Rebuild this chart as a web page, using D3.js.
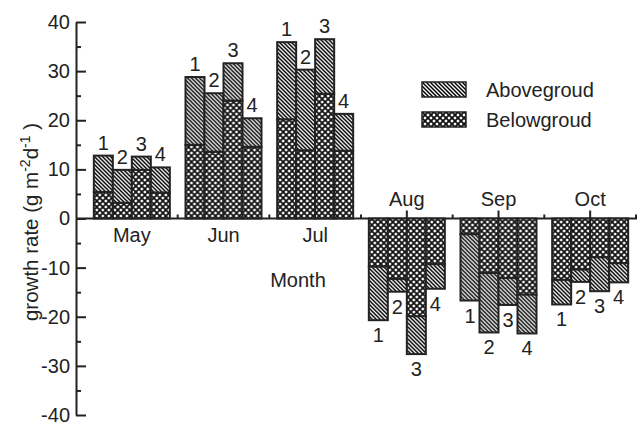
<!DOCTYPE html>
<html>
<head>
    <meta charset="utf-8">
    <title>Growth rate by month</title>
    <script src="https://d3js.org/d3.v7.min.js"></script>
    <style>
        body { margin: 0; background: #fff; }
        text { font-family: "Liberation Sans", Arial, sans-serif; fill: #222; }
    </style>
</head>
<body>
    <script>
        // data
        var months = ["May", "Jun", "Jul", "Aug", "Sep", "Oct"];
        var plots = ["1", "2", "3", "4"];
        var belowground = [
            [5.4, 3.2, 9.9, 5.3],
            [15.0, 13.6, 24.0, 14.6],
            [20.2, 13.9, 25.4, 13.8],
            [-9.8, -12.3, -19.9, -9.3],
            [-3.2, -11.1, -12.1, -15.5],
            [-12.5, -10.4, -7.9, -9.1]
        ];
        var aboveground = [
            [7.4, 6.7, 2.7, 5.1],
            [13.8, 11.9, 7.6, 5.8],
            [15.7, 16.4, 11.1, 7.5],
            [-10.9, -2.6, -7.7, -5.0],
            [-13.5, -12.1, -5.5, -7.9],
            [-5.0, -2.5, -6.9, -3.9]
        ];
        var yTicks = [-40, -30, -20, -10, 0, 10, 20, 30, 40];
        var yMinor = [-35, -25, -15, -5, 5, 15, 25, 35];
        var legendLabels = ["Abovegroud", "Belowgroud"];

        var width = 638, height = 425;
        var fs = "20px";

        var svg = d3.select("body")
            .append("svg")
            .attr("width", width)
            .attr("height", height);

        var defs = svg.append("defs");

        // diagonal hatch for aboveground
        var hatch = defs.append("pattern")
            .attr("id", "hatch")
            .attr("patternUnits", "userSpaceOnUse")
            .attr("width", 4)
            .attr("height", 4);
        hatch.append("rect").attr("width", 4).attr("height", 4).attr("fill", "#fff");
        hatch.append("path")
            .attr("d", "M-1,-1 L5,5 M-1,3 L1,5 M3,-1 L5,1")
            .attr("stroke", "#000")
            .attr("stroke-width", 1.5);

        // cross hatch for belowground
        var cross = defs.append("pattern")
            .attr("id", "cross")
            .attr("patternUnits", "userSpaceOnUse")
            .attr("width", 6)
            .attr("height", 6);
        cross.append("rect").attr("width", 6).attr("height", 6).attr("fill", "#fff");
        cross.append("path")
            .attr("d", "M0,0 L6,6 M6,0 L0,6")
            .attr("stroke", "#111")
            .attr("stroke-width", 1.8);

        var y = d3.scaleLinear().domain([-40, 40]).range([415, 22]);
        var x = d3.scaleBand().domain(months).range([86, 636]);
        var xInner = d3.scaleBand().domain(plots).range([0, 76]);
        var groupOffset = (x.bandwidth() - 76) / 2;
        var y0 = y(0);

        // x axis at zero
        var xAxis = svg.append("g").attr("transform", "translate(0," + y0 + ")");
        xAxis.append("line")
            .attr("x1", 76).attr("x2", 637)
            .attr("stroke", "#222").attr("stroke-width", 2);
        xAxis.selectAll(".major")
            .data(months)
            .enter().append("line")
            .attr("x1", function(d) { return x(d) + x.bandwidth() / 2; })
            .attr("x2", function(d) { return x(d) + x.bandwidth() / 2; })
            .attr("y1", 0).attr("y2", -8)
            .attr("stroke", "#222").attr("stroke-width", 2);
        xAxis.selectAll(".minor")
            .data(months)
            .enter().append("line")
            .attr("x1", function(d) { return x(d) + x.bandwidth(); })
            .attr("x2", function(d) { return x(d) + x.bandwidth(); })
            .attr("y1", 0).attr("y2", -4)
            .attr("stroke", "#222").attr("stroke-width", 2);

        // bars
        months.forEach(function(m, i) {
            var g = svg.append("g")
                .attr("transform", "translate(" + (x(m) + groupOffset) + ",0)");
            plots.forEach(function(p, j) {
                var b = belowground[i][j], a = aboveground[i][j];
                var total = b + a;
                var bx = xInner(p), bw = xInner.bandwidth();
                g.append("rect")
                    .attr("x", bx)
                    .attr("y", Math.min(y(0), y(b)))
                    .attr("width", bw)
                    .attr("height", Math.abs(y(b) - y(0)))
                    .attr("fill", "url(#cross)")
                    .attr("stroke", "#222").attr("stroke-width", 2);
                g.append("rect")
                    .attr("x", bx)
                    .attr("y", Math.min(y(b), y(total)))
                    .attr("width", bw)
                    .attr("height", Math.abs(y(total) - y(b)))
                    .attr("fill", "url(#hatch)")
                    .attr("stroke", "#222").attr("stroke-width", 2);
                g.append("text")
                    .attr("x", bx + bw / 2)
                    .attr("y", total >= 0 ? y(total) - 6 : y(total) + 22)
                    .attr("text-anchor", "middle")
                    .style("font-size", fs)
                    .text(p);
            });
        });

        // month labels: above the axis for negative months
        svg.selectAll(".month")
            .data(months)
            .enter().append("text")
            .attr("x", function(d) { return x(d) + x.bandwidth() / 2; })
            .attr("y", function(d, i) { return belowground[i][0] < 0 ? y0 - 13 : y0 + 23; })
            .attr("text-anchor", "middle")
            .style("font-size", fs)
            .text(function(d) { return d; });

        svg.append("text")
            .attr("x", 298).attr("y", 287)
            .attr("text-anchor", "middle")
            .style("font-size", fs)
            .text("Month");

        // y axis
        var yAxis = svg.append("g").attr("transform", "translate(76,0)");
        yAxis.call(d3.axisLeft(y).tickValues(yTicks).tickSizeInner(-10).tickSizeOuter(0).tickPadding(6)
            .tickFormat(function(d) { return String(d); }));
        yAxis.select(".domain").attr("stroke", "#222").attr("stroke-width", 2);
        yAxis.selectAll(".tick line").attr("stroke", "#222").attr("stroke-width", 2);
        yAxis.selectAll(".tick text")
            .style("font-size", fs)
            .style("font-family", "'Liberation Sans', Arial, sans-serif")
            .attr("fill", "#222");
        var yMinorAxis = svg.append("g").attr("transform", "translate(76,0)");
        yMinorAxis.call(d3.axisLeft(y).tickValues(yMinor).tickSizeInner(-5).tickSizeOuter(0).tickFormat(""));
        yMinorAxis.select(".domain").remove();
        yMinorAxis.selectAll(".tick line").attr("stroke", "#222").attr("stroke-width", 2);

        // y title
        var title = svg.append("text")
            .attr("transform", "translate(38,222) rotate(-90)")
            .attr("text-anchor", "middle")
            .style("font-size", "20.5px");
        title.append("tspan").text("growth rate (g m");
        title.append("tspan").attr("dy", -8).style("font-size", "14px").text("-2");
        title.append("tspan").attr("dy", 8).text("d");
        title.append("tspan").attr("dy", -8).style("font-size", "14px").text("-1");
        title.append("tspan").attr("dy", 8).text(" )");

        // legend
        var legend = svg.append("g").attr("transform", "translate(422,82)");
        legendLabels.forEach(function(l, i) {
            legend.append("rect")
                .attr("x", 0).attr("y", i * 30)
                .attr("width", 44).attr("height", 15)
                .attr("fill", i === 0 ? "url(#hatch)" : "url(#cross)")
                .attr("stroke", "#222").attr("stroke-width", 1.5);
            legend.append("text")
                .attr("x", 64).attr("y", i * 30 + 15)
                .style("font-size", fs)
                .text(l);
        });
    </script>
</body>
</html>
